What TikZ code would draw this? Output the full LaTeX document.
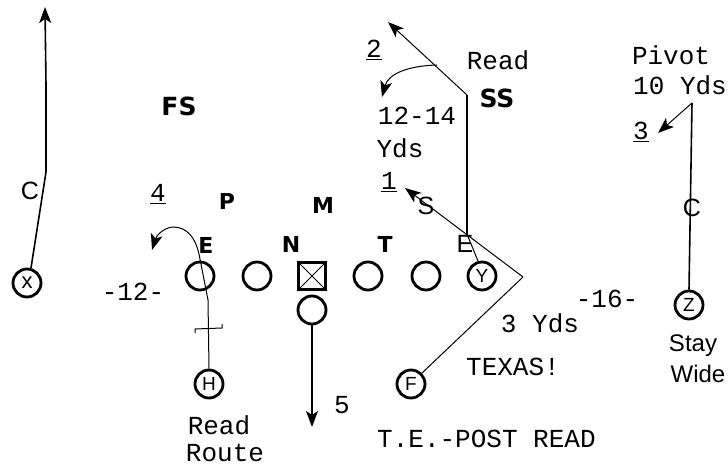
\documentclass[tikz,border=0pt]{standalone}
\usepackage{fontspec}
\setmainfont{Liberation Sans}
\newfontfamily\monof{Liberation Mono}
\newfontfamily\boldf{DejaVu Sans}
\usetikzlibrary{arrows.meta}
\begin{document}
\begin{tikzpicture}[x=1pt,y=-1pt,
  player/.style={circle,draw,line width=2.8pt,minimum size=28pt,inner sep=0pt,font=\fontsize{19}{19}\selectfont},
  cbox/.style={rectangle,draw,line width=2.8pt,minimum size=27pt,inner sep=0pt},
  lab/.style={font=\boldf\bfseries\fontsize{22}{22}\selectfont,inner sep=0pt},
  biglab/.style={font=\boldf\bfseries\fontsize{25}{25}\selectfont,inner sep=0pt},
  rlab/.style={font=\fontsize{25}{25}\selectfont,inner sep=0pt},
  mono/.style={font=\monof\fontsize{26}{26}\selectfont,inner sep=0pt},
  num/.style={font=\monof\fontsize{26}{26}\selectfont,inner sep=0pt,anchor=base},
  side/.style={font=\fontsize{24}{24}\selectfont,inner sep=0pt},
  route/.style={line width=1.6pt},
  thinr/.style={line width=1pt},
  tip/.style={-{Stealth[length=16pt,width=12pt,inset=4pt]}}
]
\useasboundingbox (0,0) rectangle (728,465);

% players
\node[player] (X) at (27,283) {\fontsize{22}{22}\selectfont x};
\node[player] (LE) at (200,276) {};
\node[player] (LG) at (257,276) {};
\node[cbox] (Cn) at (312,276) {};
\draw[thinr] (Cn.north west) -- (Cn.south east) (Cn.north east) -- (Cn.south west);
\node[player] (RG) at (368,276) {};
\node[player] (RT) at (426,276) {};
\node[player] (Y) at (482,276) {Y};
\node[player] (QB) at (312,310) {};
\node[player] (H) at (209,384) {H};
\node[player] (F) at (411,384) {F};
\node[player] (Z) at (689,305) {Z};

% defense / labels
\node[biglab] (fs) at (179,106) {FS};
\node[biglab] (ss) at (497,98) {SS};
\node[lab] (p) at (227,201) {P};
\node[lab] (m) at (323,205) {M};
\node[lab] (n) at (291,244) {N};
\node[lab] (el) at (206,245) {E};
\node[lab] (t) at (385,244) {T};
\node[rlab] (er) at (465,244) {E};
\node[rlab] (s) at (426,206) {S};
\node[rlab] (c1) at (30,191) {C};
\node[rlab] (c2) at (692,208) {C};

% texts
\node[mono] (rd1) at (498,60) {Read};
\node[mono] (yy) at (417,116) {12-14};
\node[mono] (yds) at (400,148) {Yds};
\node[mono] (pv) at (671,55) {Pivot};
\node[mono] (ten) at (680,85) {10 Yds};
\node[mono] (m12) at (133,292) {-12-};
\node[mono] (m16) at (607,299) {-16-};
\node[mono] (three) at (540,323) {3 Yds};
\node[mono] (tx) at (513,367) {TEXAS!};
\node[mono] (rd2) at (219,425) {Read};
\node[mono] (rt) at (225,453) {Route};
\node[mono] (five) at (342,405) {5};
\node[mono,anchor=west] (te) at (377,439) {T.E.-POST READ};
\node[num] (n4) at (158,202) {\underline{4}};
\node[num] (n2) at (374,58) {\underline{2}};
\node[num] (n1) at (389,190) {\underline{1}};
\node[num] (n3) at (641,140) {\underline{3}};
\node[side] (stay) at (693,346) {Stay};
\node[side] (wide) at (698,374) {Wide};

% coordinates
\coordinate (xa) at (46,172);
\coordinate (xb) at (46,85);
\coordinate (xt) at (45,7);
\coordinate (ha) at (208,300);
\coordinate (hb) at (200,259);
\coordinate (ht) at (152,250);
\coordinate (qt) at (312,427);
\coordinate (ya) at (467,234);
\coordinate (yb) at (467,95);
\coordinate (yt) at (388,22);
\coordinate (yr) at (437,65);
\coordinate (yrt) at (382,97);
\coordinate (fa) at (523,277);
\coordinate (ft) at (405,188);
\coordinate (za) at (692,103);
\coordinate (zt) at (658,133);

% routes
\draw[route,tip] (X.75) -- (xa) -- (xb) -- (xt);
\draw[thinr,tip] (H.north) -- (ha) -- (hb) .. controls (196,236) and (186,227) .. (173,227) .. controls (162,228) and (156,237) .. (ht);
\draw[thinr] (195,333) -- (195,329) -- (222,328) -- (222,324);
\draw[route,tip] (QB) -- (qt);
\draw[thinr] (Y.105) -- (ya);
\draw[route] (ya) -- (yb);
\draw[thinr,tip] (yb) -- (yt);
\draw[thinr,tip] (yr) .. controls (405,66) and (388,75) .. (yrt);
\draw[thinr] (F.45) -- (fa);
\draw[thinr,tip] (fa) -- (ft);
\draw[route] (Z.north) -- (za);
\draw[thinr,tip] (za) -- (zt);
\end{tikzpicture}
\end{document}
